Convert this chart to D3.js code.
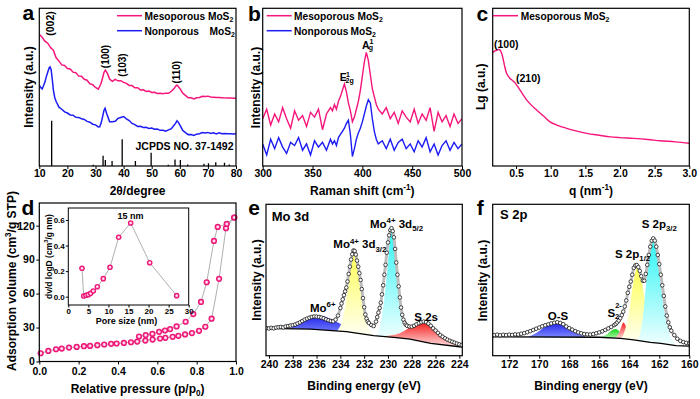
<!DOCTYPE html>
<html>
<head>
<meta charset="utf-8">
<script src="https://cdn.jsdelivr.net/npm/d3@7"></script>
<style>
  body { margin: 0; background: #fff; }
  svg { font-family: "Liberation Sans", Arial, sans-serif; font-weight: bold; }
</style>
</head>
<body>
<svg id="fig" width="700" height="399"></svg>
<script>
// ---- a: XRD ----
const xrdMeso = [[10,83.5],[11,81.6],[12,79.2],[13,77.9],[14,75.1],[15,73.4],[16,68.6],[17,66.5],[18,64.1],[19,63.7],[20,61.8],[21,61.5],[22,59.5],[23,59.2],[24,57.0],[25,56.9],[26,55.0],[27,54.4],[28,52.1],[29,51.6],[30,49.8],[31,48.7],[32,52.5],[32.5,55.6],[33,59.2],[33.5,60.8],[34,59.5],[34.5,57.6],[35,55.2],[36,53.7],[37,54.9],[38,54.0],[39,54.1],[40,53.0],[41,52.4],[42,51.1],[43,51.0],[44,49.6],[45,49.6],[46,48.2],[47,48.4],[48,47.3],[49,47.5],[50,46.6],[51,46.8],[52,46.0],[53,46.1],[54,45.8],[55,46.2],[56,46.1],[57,47.4],[58,49.1],[58.5,50.6],[59,51.3],[59.5,50.2],[60,49.2],[61,46.3],[62,44.8],[63,43.2],[64,43.2],[65,42.5],[66,43.3],[67,43.4],[68,44.2],[69,44.1],[70,44.3],[71,43.7],[72,43.6],[73,43.4],[74,43.4],[75,43.3],[76,43.2],[77,43.1],[78,43.1],[79,42.9],[80,43.0]];
const xrdNon = [[10,51.3],[10.5,49.7],[11,48.8],[11.5,50.9],[12,53.2],[12.5,56.7],[13,59.5],[13.5,62.2],[13.8,62.8],[14.2,61.2],[14.6,55.3],[15,48.3],[15.5,43.3],[16,40.9],[17,37.3],[18,36.0],[19,34.3],[20,33.6],[21,32.4],[22,32.2],[23,30.9],[24,30.8],[25,30.0],[26,29.5],[27,28.3],[28,27.8],[29,26.5],[30,26.1],[31,24.8],[31.5,24.9],[32,27.2],[32.5,31.0],[33,35.2],[33.4,36.6],[34,33.2],[34.5,30.7],[35,28.0],[36,28.0],[37,28.4],[38,30.2],[39,30.8],[40,31.4],[41,29.9],[42,28.8],[43,27.0],[44,26.2],[45,25.1],[46,25.2],[47,24.4],[48,24.5],[49,23.8],[50,24.1],[51,23.3],[52,23.4],[53,22.6],[54,22.7],[55,22.1],[56,22.9],[57,23.7],[58,26.0],[58.5,27.0],[59,28.7],[59.5,27.7],[60,26.1],[61,22.7],[62,21.2],[63,19.9],[64,20.0],[65,19.4],[66,20.2],[67,20.5],[68,21.2],[69,21.0],[70,21.3],[71,20.6],[72,21.1],[73,20.4],[74,21.1],[75,20.5],[76,20.6],[77,20.4],[78,20.4],[79,20.3],[80,20.5]];
const jcpdsPos = [14.4, 29.2, 32.7, 33.5, 35.9, 39.5, 44.2, 49.8, 55.9, 58.3, 60.2, 62.8, 68.6, 70.2, 72.8, 75.9, 77.6];
const jcpdsInt = [28.7, 0.8, 6.5, 3.8, 3.2, 16.9, 3.2, 8.4, 0.8, 4.2, 3.8, 1.0, 1.5, 1.7, 2.3, 2.0, 1.0];
const xrdTicks = [10, 20, 30, 40, 50, 60, 70, 80];

// ---- b: Raman ----
const ramanShift = [300,304,308,312,316,320,324,328,332,336,340,344,348,352,356,360,364,368,
  370,372,374,376,378,380,382,384,386,388,390,392,394,396,398,400,402,404,406,408,410,412,414,416,
  420,424,428,432,436,440,444,448,452,456,460,464,468,472,476,480,484,488,492,496,500];
const ramanMeso = [30,36,26,33,28,37,30,24,35,29,32,25,34,31,36,23,33,37,
  35,39,36,41,44,48,52,47,40,35,28,31,36,41,48,57,66,72,67,58,49,44,39,36,
  33,37,30,34,27,35,31,28,36,27,33,29,37,22,34,28,32,25,33,27,30];
const ramanNon = [14,7,17,11,18,12,8,15,13,18,10,14,7,16,12,15,10,17,
  14,16,13,18,20,22,24,27,29,20,6,11,17,21,24,28,33,38,42,40,30,22,17,14,
  16,11,17,10,15,17,11,14,9,16,12,18,9,14,7,13,16,10,15,11,14];
const ramanTicks = [300, 350, 400, 450, 500];

// ---- c: SAXS ----
const saxsQ = [0.163,0.19,0.221,0.245,0.27,0.293,0.31,0.327,0.345,0.365,0.39,0.413,0.45,0.486,0.52,0.558,0.6,0.655,0.72,0.8,0.9,0.99,1.1,1.23,1.35,1.52,1.7,1.86,2.0,2.19,2.4,2.58,2.8,3.0];
const saxsI = [72.0,72.8,73.4,73.9,73.5,71.3,68.5,65.0,61.5,58.7,56.8,55.5,54.2,52.7,50.6,48.1,45.2,41.8,38.6,35.4,31.5,28.0,25.8,23.9,22.4,20.7,19.5,18.5,18.0,17.5,16.8,16.0,15.3,14.4];
const saxsTicks = [0.5, 1.0, 1.5, 2.0, 2.5, 3.0];

// ---- d: N2 isotherm + pore size ----
const adsP = [0.007,0.046,0.085,0.114,0.151,0.19,0.227,0.258,0.295,0.33,0.365,0.393,0.43,0.466,0.498,0.539,0.576,0.614,0.641,0.678,0.707,0.741,0.776,0.812,0.844,0.876,0.914,0.949,0.991];
const adsV = [7.3,9.3,10.8,11.4,12.3,12.9,13.5,13.8,14.4,15.0,15.6,15.9,16.4,17.0,17.6,18.5,19.4,20.3,20.9,21.8,22.7,23.9,25.1,27.1,30.7,37.8,73.0,117.8,127.2];
const desP = [0.991,0.953,0.907,0.888,0.851,0.822,0.783,0.744,0.698,0.665,0.639,0.609,0.575,0.541,0.507];
const desV = [127.2,121.5,118.9,106.5,70.0,52.6,41.9,35.1,31.0,28.6,27.4,26.2,24.4,23.3,22.1];
const isoXTicks = [0, 0.2, 0.4, 0.6, 0.8, 1.0];
const isoYTicks = [0, 30, 60, 90, 120];
const poreSize = [3.41,3.83,4.4,4.98,5.57,6.23,7.23,8.72,10.39,12.55,15.54,20.28,27.0];
const poreVol = [0.222,0.005,0.011,0.016,0.026,0.045,0.078,0.141,0.23,0.465,0.577,0.266,0.008];
const poreXTicks = [0, 5, 10, 15, 20, 25, 30];
const poreYTicks = [0, 0.2, 0.4, 0.6];

// ---- e: Mo 3d ----
const moData = [[240.2,18.2],[240.0,18.0],[239.8,18.4],[239.6,18.1],[239.4,18.6],[239.2,18.8],[239.0,19.0],[238.8,18.7],[238.6,19.3],[238.4,19.6],[238.2,19.9],[238.0,20.2],[237.8,20.6],[237.6,21.3],[237.4,22.0],[237.2,22.9],[237.0,23.8],[236.8,24.5],[236.6,25.1],[236.4,25.6],[236.2,25.9],[236.0,25.8],[235.8,25.6],[235.6,25.2],[235.4,24.7],[235.2,24.0],[235.0,23.4],[234.8,22.9],[234.6,22.7],[234.4,23.8],[234.2,26.5],
  [234.0,31.5],[233.9,34.5],[233.8,37.2],[233.7,40.0],[233.6,42.5],[233.5,45.0],[233.4,49.0],[233.3,54.0],[233.2,58.8],[233.1,63.5],[233.0,67.0],[232.9,69.5],[232.8,69.2],[232.7,66.8],[232.6,62.8],[232.5,58.8],[232.4,54.5],[232.3,50.0],[232.2,44.0],[232.1,38.0],[232.0,32.0],[231.9,27.2],[231.8,24.5],[231.7,22.6],[231.6,21.6],[231.4,20.3],[231.2,19.6],
  [231.0,22.5],[230.9,25.5],[230.8,28.5],[230.7,31.5],[230.6,35.0],[230.5,40.5],[230.4,46.5],[230.3,53.5],[230.2,60.0],[230.1,68.0],[230.0,74.8],[229.9,79.5],[229.8,83.0],[229.7,84.2],[229.6,82.3],[229.5,78.2],[229.4,70.5],[229.3,61.5],[229.2,53.5],[229.1,45.8],[229.0,38.5],[228.9,31.8],[228.8,27.0],[228.7,23.8],[228.6,21.8],[228.5,20.5],[228.4,19.8],
  [228.2,19.3],[228.0,19.2],[227.8,19.8],[227.6,20.7],[227.4,21.5],[227.2,22.1],[227.0,22.5],[226.8,22.2],[226.6,21.2],[226.4,19.8],[226.2,18.1],[226.0,16.6],[225.8,15.1],[225.6,13.6],[225.4,12.5],[225.2,11.5],[225.0,10.6],[224.8,9.9],[224.6,9.2],[224.4,8.6],[224.2,8.0],[224.0,7.5],[223.8,7.1]];
const moBackground = [[240.25,18.1],[236.5,17.6],[233.5,15.9],[231.2,13.2],[229.3,11.9],[228.15,11.0],[226.4,8.2],[224.0,5.9],[223.75,5.7]];
const mo6Peak = [[238.3,17.7],[237.7,20.3],[237.2,22.2],[236.8,23.9],[236.1,26.6],[235.4,26.0],[234.6,23.4],[233.75,20.1],[232.9,16.8],[232.1,14.0]];
const mo3d32Peak = [[234.3,15.3],[233.9,22],[233.6,32],[233.3,48],[233.1,60],[232.85,68.5],[232.6,60],[232.4,48],[232.1,32],[231.8,22],[231.5,16],[231.2,13.3]];
const mo3d52Peak = [[230.9,13.6],[230.6,22],[230.3,38],[230.0,61],[229.85,75],[229.69,83.5],[229.5,74],[229.3,58],[229.05,38],[228.8,22],[228.5,14],[228.3,11.2]];
const s2sPeak = [[230.6,12.9],[229.8,13.4],[229.0,14.8],[228.5,17.0],[228.15,19.2],[227.6,21.0],[227.0,22.1],[226.5,19.5],[226.2,17.0],[225.7,13.5],[225.35,11.5],[224.8,9.0],[224.2,7.2],[223.75,5.8]];
const moTicks = [240, 238, 236, 234, 232, 230, 228, 226, 224];

// ---- f: S 2p ----
const sData = [[173.0,13.6],[172.8,13.9],[172.6,13.5],[172.4,13.8],[172.2,13.6],[172.0,13.9],[171.8,13.7],[171.6,14.1],[171.4,14.0],[171.2,14.5],[171.0,14.9],[170.8,15.5],[170.6,16.2],[170.4,17.0],[170.2,17.8],[170.0,18.6],[169.8,19.4],[169.6,20.1],[169.4,20.7],[169.2,21.3],[169.0,21.8],[168.8,22.1],[168.6,21.6],[168.4,20.8],[168.2,19.3],[168.0,18.2],[167.8,17.2],[167.6,16.2],[167.4,15.4],[167.2,14.8],[167.0,14.3],[166.8,14.1],[166.6,14.0],[166.4,14.3],[166.2,14.8],[166.0,15.4],[165.8,16.1],[165.6,17.0],[165.4,18.0],[165.2,19.0],
  [165.0,20.2],[164.9,21.0],[164.8,22.0],[164.7,23.2],[164.6,24.8],[164.5,26.8],[164.4,29.1],[164.3,32.5],[164.2,36.5],[164.1,41.5],[164.0,45.5],[163.9,49.0],[163.8,53.5],[163.7,58.0],[163.6,59.6],[163.5,59.9],[163.4,58.5],[163.3,56.0],[163.2,52.5],[163.1,49.5],[163.0,49.5],[162.9,54.0],[162.8,60.0],[162.7,66.5],[162.6,72.0],[162.5,76.0],[162.4,77.5],[162.3,76.0],[162.2,72.0],[162.1,66.5],[162.0,60.5],[161.9,53.5],[161.8,46.5],[161.7,39.5],[161.6,32.5],[161.5,26.5],[161.4,22.0],[161.3,18.8],[161.2,16.5],
  [161.0,13.6],[160.8,11.2],[160.6,9.8],[160.4,9.0],[160.2,8.5],[160.0,8.2]];
const sBackground = [[173.1,12.5],[166.0,12.2],[164.6,11.5],[163.7,10.4],[162.6,8.8],[161.9,8.2],[160.9,6.6],[160.0,6.3]];
const osPeak = [[170.7,12.6],[170.2,15],[169.7,18.5],[169.2,21],[168.8,22],[168.4,20.5],[167.9,17.5],[167.4,14.5],[166.9,12.5]];
const s22Peak = [[165.9,12.3],[165.5,14],[165.2,16.5],[164.93,17.6],[164.7,16.5],[164.5,14],[164.2,11.8]];
const s22bPeak = [[164.9,12.0],[164.65,16],[164.5,20],[164.4,22],[164.2,19],[164.0,14],[163.8,10.6]];
const s2p12Peak = [[164.5,11.8],[164.2,20],[164.0,30],[163.8,44],[163.6,55],[163.5,58],[163.3,55],[163.1,45],[162.9,32],[162.7,18],[162.5,9]];
const s2p32Peak = [[163.4,10.2],[163.1,25],[162.9,45],[162.7,66],[162.5,76.5],[162.43,77],[162.3,74],[162.1,62],[161.9,47],[161.7,32],[161.4,18],[161.1,9.5],[160.9,7]];
const sTicks = [172, 170, 168, 166, 164, 162, 160];

const pink = '#f5157b', blue = '#1c1cf5';
const svg = d3.select('#fig');
const defs = svg.append('defs');
let clipN = 0;

function panel(box, xd, yd) {
  const x = d3.scaleLinear().domain(xd).range([box.l, box.r]);
  const y = d3.scaleLinear().domain(yd).range([box.b, box.t]);
  const g = svg.append('g');
  const id = 'clip' + (clipN++);
  defs.append('clipPath').attr('id', id).append('rect')
    .attr('x', box.l).attr('y', box.t).attr('width', box.r - box.l).attr('height', box.b - box.t);
  const plot = g.append('g').attr('clip-path', `url(#${id})`);
  return { x, y, g, plot, box };
}

function frame(p, w) {
  p.g.append('rect')
    .attr('x', p.box.l).attr('y', p.box.t)
    .attr('width', p.box.r - p.box.l).attr('height', p.box.b - p.box.t)
    .attr('fill', 'none').attr('stroke', '#000').attr('stroke-width', w || 1.2);
}

function styleAxis(a, size) {
  a.select('.domain').remove();
  a.attr('font-family', null).attr('font-size', size).attr('font-weight', 'bold');
  a.selectAll('line').attr('stroke-width', 1);
}

function xAxis(p, ticks, fmt, pad) {
  p.g.append('g').attr('transform', `translate(0,${p.box.b})`)
    .call(d3.axisBottom(p.x).tickValues(ticks).tickFormat(fmt).tickSize(3).tickPadding(pad == null ? 1 : pad).tickSizeOuter(0))
    .call(a => styleAxis(a, 10.5));
}

function yAxis(p, ticks, fmt) {
  p.g.append('g').attr('transform', `translate(${p.box.l},0)`)
    .call(d3.axisLeft(p.y).tickValues(ticks).tickFormat(fmt).tickSize(3).tickPadding(1.5).tickSizeOuter(0))
    .call(a => styleAxis(a, 10.5));
}

// text with sub/superscript parts: [[text, 'sup'|'sub'|undefined], ...]
function rich(x, y, parts, size, opt) {
  opt = opt || {};
  const t = svg.append('text').attr('x', x).attr('y', y).attr('font-size', size)
    .attr('text-anchor', opt.anchor || 'start');
  if (opt.rotate) t.attr('transform', `rotate(-90,${x},${y})`);
  let shift = 0;
  parts.forEach(([s, k]) => {
    const target = k === 'sup' ? -0.4 * size : k === 'sub' ? 0.28 * size : 0;
    t.append('tspan').attr('dy', target - shift).attr('font-size', k ? size * 0.68 : size).text(s);
    shift = target;
  });
  return t;
}

function label(x, y, s, size, opt) {
  return rich(x, y, [[s]], size, opt);
}

function legendLine(x1, x2, y, color) {
  svg.append('line').attr('x1', x1).attr('x2', x2).attr('y1', y).attr('y2', y)
    .attr('stroke', color).attr('stroke-width', 1.5);
}

const line = (p, curve) => d3.line().x(d => p.x(d[0])).y(d => p.y(d[1])).curve(curve || d3.curveLinear);

// ================= a =================
const pa = panel({ l: 39.3, r: 236, t: 8.3, b: 166 }, [10, 80], [0, 100]);
pa.plot.append('path').datum(xrdNon).attr('d', line(pa)).attr('fill', 'none').attr('stroke', blue).attr('stroke-width', 1.5);
pa.plot.append('path').datum(xrdMeso).attr('d', line(pa)).attr('fill', 'none').attr('stroke', pink).attr('stroke-width', 1.5);
pa.plot.selectAll('.stick').data(jcpdsPos).join('line')
  .attr('x1', d => pa.x(d)).attr('x2', d => pa.x(d))
  .attr('y1', pa.y(0)).attr('y2', (d, i) => pa.y(jcpdsInt[i]))
  .attr('stroke', '#000').attr('stroke-width', 1.3);
frame(pa);
xAxis(pa, xrdTicks, d3.format('d'));
label(22.5, 20, 'a', 21);
label(32.5, 87, 'Intensity (a.u.)', 12, { anchor: 'middle', rotate: true });
label(137.6, 195, '2θ/degree', 12, { anchor: 'middle' });
legendLine(117, 142, 15.7, pink);
rich(144.5, 19.5, [['Mesoporous MoS'], ['2', 'sub']], 10.2);
legendLine(117, 142, 30.7, blue);
label(144.5, 34.5, 'Nonporous', 10.2);
rich(209.5, 34.5, [['MoS'], ['2', 'sub']], 10.2);
label(54, 23.5, '(002)', 10.5, { anchor: 'middle', rotate: true });
label(108.8, 56.5, '(100)', 10, { anchor: 'middle', rotate: true });
label(126.3, 65, '(103)', 10, { anchor: 'middle', rotate: true });
label(179.8, 72.2, '(110)', 10, { anchor: 'middle', rotate: true });
label(135.5, 150, 'JCPDS NO. 37-1492', 10.5);

// ================= b =================
const pb = panel({ l: 262.7, r: 462, t: 8.3, b: 166 }, [300, 500], [0, 100]);
pb.plot.append('path').datum(ramanShift.map((s, i) => [s, ramanNon[i]]))
  .attr('d', line(pb)).attr('fill', 'none').attr('stroke', blue).attr('stroke-width', 1.4);
pb.plot.append('path').datum(ramanShift.map((s, i) => [s, ramanMeso[i]]))
  .attr('d', line(pb)).attr('fill', 'none').attr('stroke', pink).attr('stroke-width', 1.4);
frame(pb);
xAxis(pb, ramanTicks, d3.format('d'));
label(248, 20.5, 'b', 21);
label(260, 87.5, 'Intensity (a.u.)', 12, { anchor: 'middle', rotate: true });
rich(362.3, 195, [['Raman shift (cm'], ['-1', 'sup'], [')']], 12, { anchor: 'middle' });
legendLine(266.7, 291.7, 15.7, pink);
rich(294, 19.5, [['Mesoporous MoS'], ['2', 'sub']], 10.2);
legendLine(266.7, 291.7, 30.7, blue);
label(294, 34.5, 'Nonporous', 10.2);
rich(350.5, 34.5, [['MoS'], ['2', 'sub']], 10.2);
label(362, 49.3, 'A', 10.5);
label(369.5, 44, '1', 7);
label(368.8, 50, 'g', 7);
label(339.8, 81, 'E', 10.5);
label(346, 76.5, '1', 7);
label(345.6, 83, '2g', 7);

// ================= c =================
const pc = panel({ l: 492.7, r: 689.3, t: 8.3, b: 166 }, [0.163, 3.0], [0, 100]);
pc.plot.append('path').datum(saxsQ.map((q, i) => [q, saxsI[i]]))
  .attr('d', line(pc, d3.curveMonotoneX)).attr('fill', 'none').attr('stroke', pink).attr('stroke-width', 1.4);
frame(pc);
xAxis(pc, saxsTicks, d3.format('.1f'));
label(476.5, 20.5, 'c', 21);
label(485.5, 86.7, 'Lg (a.u.)', 12, { anchor: 'middle', rotate: true });
rich(591, 195, [['q (nm'], ['-1', 'sup'], [')']], 12, { anchor: 'middle' });
legendLine(493, 518, 15.7, pink);
rich(520.7, 19.5, [['Mesoporous MoS'], ['2', 'sub']], 10.2);
label(494, 48, '(100)', 10.5);
label(516, 82, '(210)', 10.5);

// ================= d =================
const pd = panel({ l: 39.3, r: 236, t: 203, b: 361.5 }, [0, 1], [0, 140]);
const grad = defs.append('radialGradient').attr('id', 'ball').attr('cx', '50%').attr('cy', '50%').attr('r', '50%');
grad.append('stop').attr('offset', '0%').attr('stop-color', '#ffffff');
grad.append('stop').attr('offset', '35%').attr('stop-color', '#ffc2dd');
grad.append('stop').attr('offset', '62%').attr('stop-color', '#f5207f');
grad.append('stop').attr('offset', '100%').attr('stop-color', '#e3106f');
const adsPts = adsP.map((p, i) => [p, adsV[i]]);
const desPts = desP.map((p, i) => [p, desV[i]]);
[adsPts, desPts].forEach(pts => {
  pd.g.append('path').datum(pts).attr('d', line(pd)).attr('fill', 'none').attr('stroke', '#9a9a9a').attr('stroke-width', 0.8);
});
pd.g.selectAll('.iso').data(adsPts.concat(desPts)).join('circle')
  .attr('cx', d => pd.x(d[0])).attr('cy', d => pd.y(d[1])).attr('r', 3.1).attr('fill', 'url(#ball)');
frame(pd);
xAxis(pd, isoXTicks, d3.format('.1f'), 3.5);
yAxis(pd, isoYTicks, d3.format('d'));
label(21.5, 215, 'd', 21);
rich(15.5, 281, [['Adsorption volume (cm'], ['3', 'sup'], ['/g STP)']], 12, { anchor: 'middle', rotate: true });
rich(137.6, 393, [['Relative pressure (p/p'], ['0', 'sub'], [')']], 12, { anchor: 'middle' });

// inset
const pi = panel({ l: 68.3, r: 188.7, t: 208, b: 305 }, [0, 30], [-0.065, 0.694]);
pi.g.append('path').datum(poreSize.map((s, i) => [s, poreVol[i]]))
  .attr('d', line(pi)).attr('fill', 'none').attr('stroke', '#9a9a9a').attr('stroke-width', 0.8);
pi.g.selectAll('.pore').data(poreSize).join('circle')
  .attr('cx', d => pi.x(d)).attr('cy', (d, i) => pi.y(poreVol[i])).attr('r', 2.8).attr('fill', 'url(#ball)');
frame(pi, 1);
pi.g.append('g').attr('transform', `translate(0,${pi.box.b})`)
  .call(d3.axisBottom(pi.x).tickValues(poreXTicks).tickFormat(d3.format('d')).tickSize(2.5).tickPadding(1).tickSizeOuter(0))
  .call(a => styleAxis(a, 8));
pi.g.append('g').attr('transform', `translate(${pi.box.l},0)`)
  .call(d3.axisLeft(pi.y).tickValues(poreYTicks).tickFormat(d3.format('.1f')).tickSize(2.5).tickPadding(1).tickSizeOuter(0))
  .call(a => styleAxis(a, 8));
label(126.5, 323.5, 'Pore size (nm)', 9, { anchor: 'middle' });
rich(51.5, 256.5, [['dv/d logD (cm'], ['3', 'sup'], ['/g nm)']], 8.5, { anchor: 'middle', rotate: true });
label(130.5, 218.5, '15 nm', 9, { anchor: 'middle' });

// ================= e / f helpers =================
function gradient(id, top, bottom) {
  const lg = defs.append('linearGradient').attr('id', id).attr('x1', 0).attr('y1', 0).attr('x2', 0).attr('y2', 1);
  lg.append('stop').attr('offset', '0%').attr('stop-color', top);
  lg.append('stop').attr('offset', '100%').attr('stop-color', bottom);
}
gradient('gBlue', '#1f22e8', '#7c86ff');
gradient('gYellow', '#ffff55', '#fffff2');
gradient('gCyan', '#2ef5f5', '#f0ffff');
gradient('gRed', '#f51d1d', '#ffe2e2');
gradient('gGreen', '#19d219', '#b8ffb8');

function xps(p, data, bg, comps) {
  const bgScale = d3.scaleLinear().domain(bg.map(d => d[0])).range(bg.map(d => d[1])).clamp(true);
  comps.forEach(([pts, fill]) => {
    p.plot.append('path').datum(pts)
      .attr('d', d3.area().x(d => p.x(d[0])).y1(d => p.y(Math.max(d[1], bgScale(d[0])))).y0(d => p.y(bgScale(d[0]))).curve(d3.curveMonotoneX))
      .attr('fill', fill);
  });
  p.plot.append('path').datum(bg).attr('d', line(p)).attr('fill', 'none').attr('stroke', '#000').attr('stroke-width', 1.3);
  p.plot.append('path').datum(data).attr('d', line(p, d3.curveMonotoneX)).attr('fill', 'none')
    .attr('stroke', '#bdbdbd').attr('stroke-width', 3);
  p.plot.selectAll('.pt').data(data).join('circle')
    .attr('cx', d => p.x(d[0])).attr('cy', d => p.y(d[1])).attr('r', 1.8)
    .attr('fill', '#fff').attr('stroke', '#000').attr('stroke-width', 0.7);
}

// ================= e =================
const pe = panel({ l: 266, r: 462.3, t: 204.3, b: 355.7 }, [240.25, 223.75], [0, 100]);
xps(pe, moData, moBackground, [[mo6Peak, 'url(#gBlue)'], [mo3d32Peak, 'url(#gYellow)'], [mo3d52Peak, 'url(#gCyan)'], [s2sPeak, 'url(#gRed)']]);
frame(pe);
xAxis(pe, moTicks, d3.format('d'), 2);
label(248.3, 215, 'e', 21);
label(260.7, 280, 'Intensity (a.u.)', 12, { anchor: 'middle', rotate: true });
label(364, 390, 'Binding energy (eV)', 12, { anchor: 'middle' });
label(271.7, 220.5, 'Mo 3d', 13);
rich(310, 311.7, [['Mo'], ['6+', 'sup']], 11.5);
rich(333.3, 248.3, [['Mo'], ['4+', 'sup'], [' 3d'], ['3/2', 'sub']], 11.5);
rich(370, 227.7, [['Mo'], ['4+', 'sup'], [' 3d'], ['5/2', 'sub']], 11.5);
label(414.3, 320.5, 'S 2s', 11.5);

// ================= f =================
const pf = panel({ l: 492.7, r: 689.3, t: 204.3, b: 355.7 }, [173.1, 160], [0, 100]);
xps(pf, sData, sBackground, [[osPeak, 'url(#gBlue)'], [s22Peak, 'url(#gGreen)'], [s22bPeak, 'url(#gRed)'], [s2p12Peak, 'url(#gYellow)'], [s2p32Peak, 'url(#gCyan)']]);
frame(pf);
xAxis(pf, sTicks, d3.format('d'), 2);
label(476.7, 215, 'f', 21);
label(487, 280.5, 'Intensity (a.u.)', 12, { anchor: 'middle', rotate: true });
label(591, 390, 'Binding energy (eV)', 12, { anchor: 'middle' });
label(500, 219, 'S 2p', 13);
label(547.7, 320, 'O-S', 11.5);
label(607.5, 316.7, 'S', 11.5);
label(615.2, 307.5, '2-', 7.5);
label(615, 318.5, '2', 7.5);
rich(615, 258, [['S 2p'], ['1/2', 'sub']], 11.5);
rich(641.7, 228, [['S 2p'], ['3/2', 'sub']], 11.5);
</script>
</body>
</html>
